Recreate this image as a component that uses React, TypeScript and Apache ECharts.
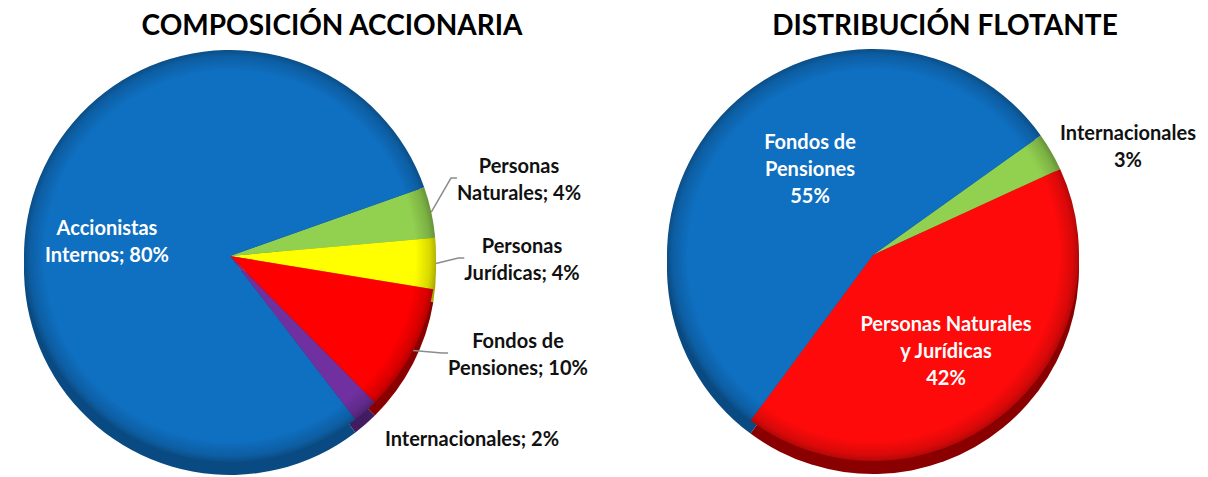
import React, { useEffect, useRef } from "react";
import * as echarts from "echarts";

// ---- data ----
const leftTitle = "COMPOSICIÓN ACCIONARIA";
const rightTitle = "DISTRIBUCIÓN FLOTANTE";

const leftNames = ["Personas Naturales", "Personas Jurídicas", "Fondos de Pensiones", "Internacionales", "Accionistas Internos"];
const leftLabelNames = ["Personas\nNaturales", "Personas\nJurídicas", "Fondos de\nPensiones", "Internacionales", "Accionistas\nInternos"];
const leftValues = [4, 4, 10, 2, 80];

const rightNames = ["Internacionales", "Personas Naturales y Jurídicas", "Fondos de Pensiones"];
const rightLabelNames = ["Internacionales", "Personas Naturales\ny Jurídicas", "Fondos de\nPensiones"];
const rightValues = [3, 42, 55];

// ---- styles / layout ----
const leftColors = ["#92D050", "#FFFF00", "#FF0000", "#7030A0", "#0F6FC0"];
const leftDepth = ["#5E8A2E", "#A8A800", "#8A0000", "#421C60", "#0A4A82"];
const rightColors = ["#92D050", "#FF0A0A", "#0F6FC0"];
const rightDepth = ["#5E8A2E", "#8A0000", "#0A4A82"];

const R = 206;
const LC = [230, 256];
const RC = [873, 255];
const DEPTH = 13;
const FONT = "Lato, 'Open Sans', sans-serif";

const leftLabelPos = [
  [519, 178],
  [522, 258],
  [518, 353],
  [472, 438],
  [107, 240],
];
const leftPosition = ["outside", "outside", "outside", "inside", "inside"];
const leftInkWhite = [false, false, false, false, true];

const rightLabelPos = [
  [1128, 145],
  [946, 350],
  [810, 168],
];
const rightInkWhite = [false, true, true];

function shade(hex: string, f: number) {
  const n = parseInt(hex.slice(1), 16);
  const r = Math.round(((n >> 16) & 255) * f);
  const g = Math.round(((n >> 8) & 255) * f);
  const b = Math.round((n & 255) * f);
  return `rgb(${r},${g},${b})`;
}

function bevel(color: string, c: number[]) {
  return {
    type: "radial",
    x: c[0],
    y: c[1],
    r: R,
    global: true,
    colorStops: [
      { offset: 0, color },
      { offset: 0.9, color },
      { offset: 0.97, color: shade(color, 0.85) },
      { offset: 1, color: shade(color, 0.7) },
    ],
  };
}

export default function App() {
  const ref = useRef<HTMLDivElement>(null);
  useEffect(() => {
    if (!ref.current) return;
    const chart = echarts.init(ref.current, undefined, { renderer: "svg" });

    const depthSeries = (c: number[], names: string[], values: number[], colors: string[], start: number) => ({
      type: "pie",
      silent: true,
      center: [c[0], c[1] + DEPTH],
      radius: R,
      startAngle: start,
      clockwise: true,
      label: { show: false },
      labelLine: { show: false },
      z: 1,
      data: names.map((n, i) => ({ name: n, value: values[i], itemStyle: { color: colors[i] } })),
    });

    const labelStyle = {
      fontFamily: FONT,
      fontWeight: "bold",
      fontSize: 20,
      lineHeight: 27,
      align: "center",
      overflow: "none",
    };

    const titleStyle = { fontFamily: FONT, fontWeight: "bold", fontSize: 28, color: "#000" };

    const option = {
      animation: false,
      title: [
        { text: leftTitle, left: 327, top: 5, textAlign: "center", textStyle: titleStyle },
        { text: rightTitle, left: 940, top: 5, textAlign: "center", textStyle: titleStyle },
      ],
      series: [
        depthSeries(LC, leftNames, leftValues, leftDepth, 19.5),
        depthSeries(RC, rightNames, rightValues, rightDepth, 35.5),
        {
          type: "pie",
          center: LC,
          radius: R,
          startAngle: 19.5,
          clockwise: true,
          z: 2,
          label: {
            show: true,
            ...labelStyle,
            formatter: (p: any) => `${leftLabelNames[p.dataIndex]}; ${p.value}%`,
          },
          labelLine: { show: true, length: 6, length2: 6, lineStyle: { color: "#8c8c8c", width: 1.5 } },
          labelLayout: (p: any) => ({
            x: leftLabelPos[p.dataIndex][0],
            y: leftLabelPos[p.dataIndex][1],
            align: "center",
            verticalAlign: "middle",
          }),
          data: leftNames.map((n, i) => ({
            name: n,
            value: leftValues[i],
            itemStyle: { color: bevel(leftColors[i], LC) },
            label: { position: leftPosition[i], color: leftInkWhite[i] ? "#fff" : "#111" },
            labelLine: { show: leftPosition[i] === "outside" },
          })),
        },
        {
          type: "pie",
          center: RC,
          radius: R,
          startAngle: 35.5,
          clockwise: true,
          z: 2,
          label: {
            show: true,
            position: "inside",
            ...labelStyle,
            formatter: (p: any) => `${rightLabelNames[p.dataIndex]}\n${p.value}%`,
          },
          labelLine: { show: false },
          labelLayout: (p: any) => ({
            x: rightLabelPos[p.dataIndex][0],
            y: rightLabelPos[p.dataIndex][1],
            align: "center",
            verticalAlign: "middle",
          }),
          data: rightNames.map((n, i) => ({
            name: n,
            value: rightValues[i],
            itemStyle: { color: bevel(rightColors[i], RC) },
            label: { color: rightInkWhite[i] ? "#fff" : "#111" },
          })),
        },
      ],
    };
    chart.setOption(option as any);
    return () => chart.dispose();
  }, []);
  return (
    <div
      ref={ref}
      style={{ position: "absolute", left: 0, top: 0, width: 1208, height: 477, background: "#fff" }}
    />
  );
}
